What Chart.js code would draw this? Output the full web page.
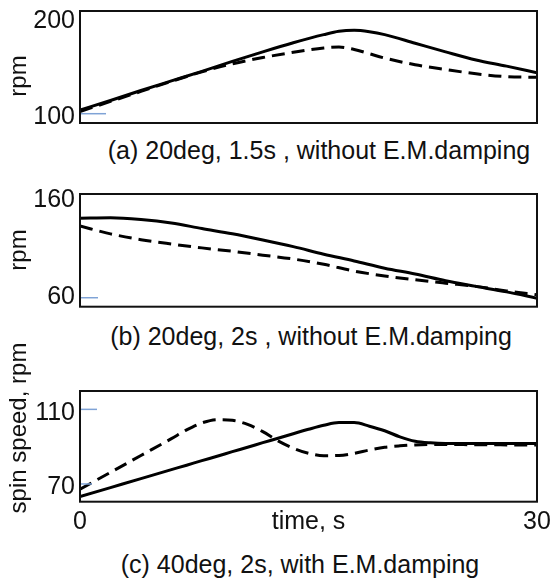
<!DOCTYPE html>
<html>
<head>
<meta charset="utf-8">
<script src="https://cdn.jsdelivr.net/npm/chart.js@4.4.1/dist/chart.umd.min.js"></script>
<style>
  body { margin: 0; background: #fff; }
  #wrap { position: relative; width: 553px; height: 582px; background: #fff; font-family: "Liberation Sans", Arial, sans-serif; color: #111; }
  canvas { position: absolute; left: 0; }
  .cap { position: absolute; font-size: 25px; line-height: 25px; white-space: nowrap; transform: translateX(-50%); }
  .ytitle { position: absolute; font-size: 24px; line-height: 24px; white-space: nowrap; transform: translate(-50%, -50%) rotate(-90deg); }
</style>
</head>
<body>
<div id="wrap">
  <canvas id="ca" width="553" height="130" style="top:0px"></canvas>
  <canvas id="cb" width="553" height="140" style="top:180px"></canvas>
  <canvas id="cc" width="553" height="160" style="top:380px"></canvas>
  <div class="ytitle" style="left:18px; top:76px">rpm</div>
  <div class="ytitle" style="left:18px; top:250px">rpm</div>
  <div class="ytitle" style="left:18px; top:428px">spin speed, rpm</div>
  <div class="cap" style="left:319px; top:138px">(a) 20deg, 1.5s , without E.M.damping</div>
  <div class="cap" style="left:311px; top:324px">(b) 20deg, 2s , without E.M.damping</div>
  <div class="cap" style="left:300px; top:552px">(c) 40deg, 2s, with E.M.damping</div>
</div>
<script>
// (a) 20deg, 1.5s, no damping
const timeA = [0, 2, 4, 6, 8, 10, 12, 14, 16, 17, 18, 19, 20, 22, 24, 26, 28, 30];
const solidA = [107, 117, 127.5, 137.5, 147.5, 158, 168, 177.5, 186, 189.5, 190.5, 189, 186, 177, 168, 159.5, 153, 146];
const dashedA = [105.5, 116, 126.5, 137, 147, 155.5, 162, 167.5, 172, 173, 170.5, 166, 161.5, 154.5, 149.5, 145, 142, 141.3];
const yTicksA = [100, 200];

// (b) 20deg, 2s, no damping
const timeB = [0, 2, 4, 6, 8, 10, 12, 14, 16, 18, 20, 22, 24, 26, 28, 30];
const solidB = [141.6, 142.1, 140.3, 136.7, 131, 125.6, 119.2, 112.3, 104.5, 97.5, 90, 84, 77, 71.2, 65.5, 59];
const dashedB = [133.6, 125.5, 119.5, 115, 111, 107.5, 103.5, 99.5, 94, 87, 82, 78, 74.5, 71.2, 66.5, 62.5];
const yTicksB = [60, 160];

// (c) 40deg, 2s, with damping
const timeC = [0, 2, 4, 6, 7, 8, 9, 10, 11, 12, 13, 14, 15, 16, 17, 18, 19, 20, 21, 22, 23, 24, 26, 28, 30];
const solidC = [64.6, 69.5, 74.4, 79.3, 81.7, 84.2, 86.6, 89.1, 91.5, 94, 96.4, 98.9, 101.3, 103.5, 105, 105, 103, 100.5, 97.2, 94.8, 93.9, 93.6, 93.6, 93.6, 93.6];
const dashedC = [68.6, 77.8, 87, 96.2, 101, 104.8, 106.6, 106.2, 104, 100, 95, 91, 88.2, 86.9, 87, 88.2, 90, 91.5, 92.3, 92.8, 93, 93, 92.9, 92.8, 92.7];
const yTicksC = [70, 110];
const xTicksC = [0, 15, 30];
const xLabelsC = ['0', 'time, s', '30'];

const FONT = { family: '"Liberation Sans", Arial, sans-serif', size: 25 };

function pts(ts, vs) {
    return ts.map((t, i) => ({ x: t, y: vs[i] }));
}

// black frame round the plot area + the little blue marks
const framePlugin = {
    id: 'frame',
    afterDraw(chart, args, opts) {
        const { ctx, chartArea: a } = chart;
        ctx.save();
        (opts.marks || []).forEach(m => {
            const y = chart.scales.y.getPixelForValue(m.value) + m.dy;
            ctx.strokeStyle = '#7fa3d6';
            ctx.lineWidth = 1.5;
            ctx.beginPath();
            ctx.moveTo(a.left + 1, y);
            ctx.lineTo(a.left + m.len, y);
            ctx.stroke();
        });
        ctx.strokeStyle = '#111';
        ctx.lineWidth = 2;
        ctx.strokeRect(a.left, a.top, a.right - a.left, a.bottom - a.top);
        ctx.restore();
    }
};

function makeChart(id, o) {
    const showX = !!o.xTicks;
    const xScale = {
        type: 'linear', min: 0, max: 30,
        display: showX,
        grid: { display: false, drawTicks: false },
        border: { display: false },
        ticks: { font: FONT, color: '#111', padding: 5, maxRotation: 0 },
        afterFit: s => {
            if (showX) s.height = 30;
            s.paddingLeft = 0;
            s.paddingRight = 0;
        }
    };
    if (showX) {
        xScale.afterBuildTicks = s => { s.ticks = o.xTicks.map(v => ({ value: v })); };
        xScale.ticks.callback = (v) => o.xLabels[o.xTicks.indexOf(v)];
    }
    return new Chart(document.getElementById(id), {
        type: 'line',
        data: {
            datasets: [
                {
                    data: pts(o.time, o.solid),
                    borderColor: '#000', borderWidth: 3, pointRadius: 0,
                    cubicInterpolationMode: 'monotone'
                },
                {
                    data: pts(o.time, o.dashed),
                    borderColor: '#000', borderWidth: 3, pointRadius: 0,
                    borderDash: [13, 7],
                    cubicInterpolationMode: 'monotone'
                }
            ]
        },
        options: {
            responsive: false,
            animation: false,
            events: [],
            layout: { padding: o.padding },
            plugins: {
                legend: { display: false },
                tooltip: { enabled: false },
                frame: { marks: o.marks }
            },
            scales: {
                x: xScale,
                y: {
                    type: 'linear', min: o.min, max: o.max,
                    grid: { display: false, drawTicks: false },
                    border: { display: false },
                    ticks: { font: FONT, color: '#111', padding: 5 },
                    afterBuildTicks: s => { s.ticks = o.yTicks.map(v => ({ value: v })); },
                    afterFit: s => {
                        s.width = 80;
                        s.paddingTop = 0;
                        s.paddingBottom = 0;
                    }
                }
            }
        },
        plugins: [framePlugin]
    });
}

makeChart('ca', {
    time: timeA, solid: solidA, dashed: dashedA, yTicks: yTicksA,
    min: 93.4, max: 210.8,
    padding: { top: 11, bottom: 7, left: 0, right: 16 },
    marks: [{ value: 100, len: 26, dy: -3 }]
});

makeChart('cb', {
    time: timeB, solid: solidB, dashed: dashedB, yTicks: yTicksB,
    min: 50.2, max: 166.7,
    padding: { top: 14, bottom: 13.3, left: 0, right: 16 },
    marks: [{ value: 60, len: 18, dy: 0.5 }]
});

makeChart('cc', {
    time: timeC, solid: solidC, dashed: dashedC, yTicks: yTicksC,
    xTicks: xTicksC, xLabels: xLabelsC,
    min: 61.8, max: 122.2,
    padding: { top: 11, bottom: 8.3, left: 0, right: 16 },
    marks: [{ value: 110, len: 17, dy: -4 }, { value: 70, len: 12, dy: -2.7 }]
});
</script>
</body>
</html>
